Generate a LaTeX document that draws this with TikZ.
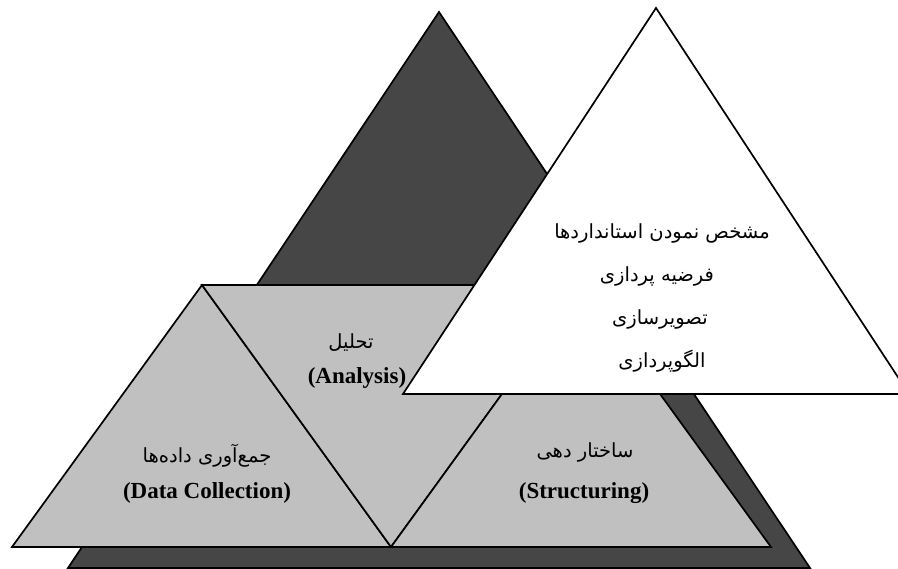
\documentclass[tikz,border=0pt]{standalone}
\usepackage{fontspec}
\setmainfont{Liberation Serif}
\newfontfamily\arabicfont[Script=Arabic]{DejaVu Sans}
\TeXXeTstate=1
\definecolor{darkfill}{HTML}{464646}
\definecolor{lightfill}{HTML}{C0C0C0}
\begin{document}
\begin{tikzpicture}[x=1pt,y=-1pt,
  tri/.style={draw=black,line width=1.7pt,line join=miter},
  fa/.style={inner sep=0pt,font=\arabicfont\fontsize{19.5}{23}\selectfont},
  en/.style={inner sep=0pt,font=\bfseries\fontsize{23}{27}\selectfont}]
\useasboundingbox (0,0) rectangle (898,569);
\clip (0,0) rectangle (898,569);
% coordinates
\coordinate (dA) at (439,12);
\coordinate (dL) at (68,568);
\coordinate (dR) at (810,568);
\coordinate (lA) at (202,285);
\coordinate (lL) at (12,547);
\coordinate (mB) at (391,547);
\coordinate (rA) at (581,285);
\coordinate (rR) at (771,547);
\coordinate (wA) at (656,8);
\coordinate (wL) at (403,394);
\coordinate (wR) at (909,394);
% shapes
\draw[tri,fill=darkfill] (dA) -- (dL) -- (dR) -- cycle;
\draw[tri,fill=lightfill] (lA) -- (lL) -- (mB) -- cycle;
\draw[tri,fill=lightfill] (lA) -- (rA) -- (mB) -- cycle;
\draw[tri,fill=lightfill] (rA) -- (mB) -- (rR) -- cycle;
\draw[tri,fill=white] (wA) -- (wL) -- (wR) -- cycle;
% texts
\node[fa] (dcfa) at (207,456) {\beginR جمع‌آوری داده‌ها\endR};
\node[en] (dcen) at (207,493) {(Data Collection)};
\node[fa] (anfa) at (351,343) {\beginR تحلیل\endR};
\node[en] (anen) at (357,378) {(Analysis)};
\node[fa] (stfa) at (585,452) {\beginR ساختار دهی\endR};
\node[en] (sten) at (584,493) {(Structuring)};
\node[fa] (w1) at (662,233) {\beginR مشخص نمودن استانداردها\endR};
\node[fa] (w2) at (657,276) {\beginR فرضیه پردازی\endR};
\node[fa] (w3) at (660,319) {\beginR تصویرسازی\endR};
\node[fa] (w4) at (662,361) {\beginR الگوپردازی\endR};
\end{tikzpicture}
\end{document}
